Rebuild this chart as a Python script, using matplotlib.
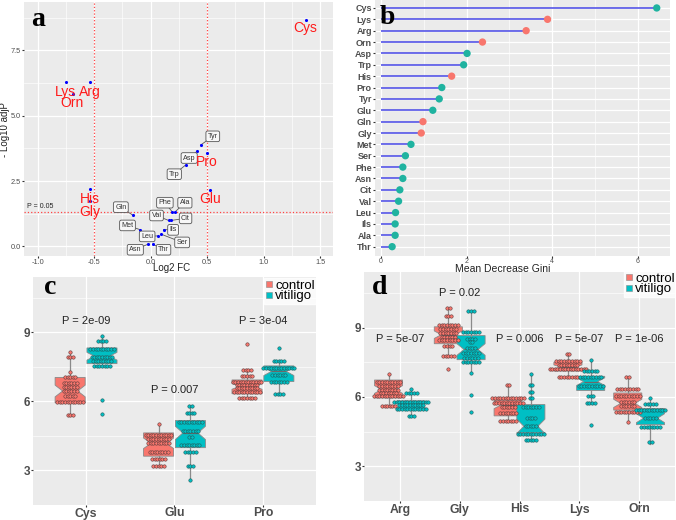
import numpy as np
import matplotlib
matplotlib.use('Agg')
import matplotlib.pyplot as plt
from matplotlib.lines import Line2D

plt.rcParams['font.family'] = ['Liberation Sans', 'DejaVu Sans']

# ---------------- data ----------------
# a: volcano
vol_names = ['Cys', 'Lys', 'Arg', 'Orn', 'His', 'Gly', 'Tyr', 'Asp', 'Pro', 'Trp', 'Glu',
             'Gln', 'Phe', 'Ala', 'Val', 'Cit', 'Met', 'Ils', 'Ser', 'Leu', 'Asn', 'Thr']
log2fc = [1.38, -0.75, -0.54, -0.69, -0.54, -0.54, 0.445, 0.41, 0.50, 0.31, 0.53,
          -0.153, 0.19, 0.22, 0.16, 0.18, -0.094, 0.115, 0.097, 0.065, -0.024, 0.02]
neglogp = [8.68, 6.28, 6.28, 5.83, 2.19, 1.72, 3.88, 3.63, 3.57, 3.11, 2.16,
           1.18, 1.33, 1.33, 0.99, 0.99, 0.64, 0.64, 0.46, 0.40, 0.08, 0.08]
signif = ['Cys', 'Lys', 'Arg', 'Orn', 'His', 'Gly', 'Pro', 'Glu']

# b: random forest importance
gini_names = ['Cys', 'Lys', 'Arg', 'Orn', 'Asp', 'Trp', 'His', 'Pro', 'Tyr', 'Glu', 'Gln',
              'Gly', 'Met', 'Ser', 'Phe', 'Asn', 'Cit', 'Val', 'Leu', 'Ils', 'Ala', 'Thr']
gini = [6.44, 3.89, 3.39, 2.37, 2.01, 1.93, 1.65, 1.42, 1.36, 1.21, 0.98,
        0.94, 0.70, 0.57, 0.51, 0.51, 0.44, 0.41, 0.34, 0.33, 0.33, 0.26]
gini_high = ['vitiligo', 'control', 'control', 'control', 'vitiligo', 'vitiligo', 'control',
             'vitiligo', 'vitiligo', 'vitiligo', 'control', 'control', 'vitiligo', 'vitiligo',
             'vitiligo', 'vitiligo', 'vitiligo', 'vitiligo', 'vitiligo', 'vitiligo', 'vitiligo', 'vitiligo']

# c: boxplots  (q1, median, q3, whisker low, whisker high)
c_cats = ['Cys', 'Glu', 'Pro']
c_pvals = ['P = 2e-09', 'P = 0.007', 'P = 3e-04']
c_ctrl_box = [(5.94, 6.45, 7.04, 5.40, 8.15), (3.62, 4.18, 4.63, 3.21, 5.01), (6.33, 6.65, 6.93, 6.15, 7.35)]
c_viti_box = [(7.64, 7.96, 8.32, 7.54, 8.84), (3.99, 4.63, 5.17, 2.60, 5.80), (6.86, 7.30, 7.54, 6.32, 7.77)]
# dot rows (value, count)
c_ctrl_dots = [
    [(8.15, 1), (7.92, 3), (7.28, 1), (7.04, 5), (6.79, 6), (6.62, 6), (6.45, 6), (6.25, 5), (5.97, 11), (5.40, 3)],
    [(5.01, 1), (4.56, 11), (4.37, 9), (4.18, 9), (3.78, 8), (3.48, 6), (3.21, 5)],
    [(8.50, 1), (7.35, 4), (7.10, 5), (6.84, 12), (6.70, 9), (6.59, 9), (6.39, 11), (6.15, 7)],
]
c_viti_dots = [
    [(8.84, 1), (8.63, 4), (8.26, 10), (7.92, 9), (7.75, 8), (7.55, 7), (6.06, 1), (5.45, 1)],
    [(5.80, 2), (5.48, 4), (5.10, 10), (4.73, 7), (4.46, 2), (4.11, 8), (3.81, 5), (3.21, 3), (2.60, 1)],
    [(8.33, 1), (7.77, 5), (7.47, 13), (7.14, 6), (6.83, 7), (6.32, 4)],
]

# d: boxplots
d_cats = ['Arg', 'Gly', 'His', 'Lys', 'Orn']
d_pvals = ['P = 5e-07', 'P = 0.02', 'P = 0.006', 'P = 5e-07', 'P = 1e-06']
d_ctrl_box = [(5.96, 6.32, 6.73, 5.59, 7.01), (8.30, 8.69, 9.03, 7.79, 9.86), (5.18, 5.65, 5.86, 4.94, 6.53),
              (7.12, 7.29, 7.50, 6.86, 7.86), (5.43, 5.72, 6.17, 4.91, 6.86)]
d_viti_box = [(5.46, 5.63, 5.83, 5.18, 6.35), (7.61, 8.05, 8.65, 7.03, 9.72), (4.45, 4.73, 5.67, 4.14, 6.97),
              (6.28, 6.66, 6.89, 5.75, 7.61), (4.80, 5.08, 5.50, 3.95, 5.97)]
d_ctrl_dots = [
    [(7.01, 1), (6.66, 10), (6.49, 8), (6.31, 8), (6.19, 7), (6.04, 12), (5.59, 6)],
    [(9.86, 2), (9.51, 3), (9.10, 8), (8.93, 7), (8.77, 7), (8.59, 6), (8.45, 8), (8.20, 4), (7.79, 5), (7.20, 1)],
    [(6.53, 2), (5.96, 13), (5.75, 12), (5.55, 6), (5.30, 7), (4.94, 7)],
    [(7.86, 2), (7.55, 10), (7.38, 8), (7.21, 15), (6.86, 8)],
    [(6.86, 2), (6.34, 9), (6.03, 10), (5.77, 6), (5.60, 6), (5.35, 10), (4.91, 1)],
]
d_viti_dots = [
    [(6.35, 1), (6.17, 5), (5.80, 14), (5.63, 10), (5.49, 12), (5.18, 3)],
    [(9.72, 3), (8.80, 7), (8.51, 4), (8.36, 2), (8.13, 4), (7.88, 7), (7.70, 6), (7.53, 7), (7.03, 1), (6.08, 1), (5.35, 1)],
    [(6.97, 1), (6.52, 2), (6.21, 2), (5.96, 2), (5.58, 7), (5.07, 4), (4.73, 5), (4.41, 11), (4.14, 5)],
    [(7.61, 1), (7.12, 6), (6.85, 9), (6.49, 10), (6.06, 3), (5.75, 4), (4.78, 1)],
    [(5.97, 1), (5.70, 5), (5.43, 12), (5.08, 5), (4.72, 8), (4.03, 2)],
]

# ---------------- style / layout ----------------
RED = '#F8766D'
TEAL = '#00BFC4'
BG = '#EBEBEB'
TXT = '#4D4D4D'
W, H = 676, 520

# label positions for panel a (layout only)
red_lab_pos = {'Cys': (1.37, 8.35), 'Lys': (-0.752, 5.91), 'Arg': (-0.534, 5.91), 'Orn': (-0.693, 5.49),
               'Pro': (0.498, 3.22), 'His': (-0.54, 1.83), 'Gly': (-0.54, 1.33), 'Glu': (0.528, 1.81)}
box_lab_pos = {'Tyr': (0.551, 4.21), 'Asp': (0.342, 3.38), 'Trp': (0.21, 2.76), 'Gln': (-0.263, 1.50),
               'Phe': (0.127, 1.67), 'Ala': (0.304, 1.67), 'Val': (0.053, 1.18), 'Cit': (0.31, 1.07),
               'Met': (-0.204, 0.80), 'Ils': (0.20, 0.63), 'Leu': (-0.03, 0.38), 'Ser': (0.28, 0.15),
               'Asn': (-0.135, -0.13), 'Thr': (0.115, -0.13)}


def px_axes(l, t, r, b):
    return fig.add_axes([l / W, 1 - b / H, (r - l) / W, (b - t) / H])


def gg(ax):
    ax.set_facecolor(BG)
    for s in ax.spines.values():
        s.set_visible(False)
    ax.set_axisbelow(True)
    ax.grid(True, which='major', color='white', lw=0.9)
    ax.grid(True, which='minor', color='white', lw=0.45)
    ax.tick_params(which='major', length=1.5, color='#333333', labelcolor=TXT, pad=0.8)
    ax.tick_params(which='minor', length=0)


fig = plt.figure(figsize=(W / 100, H / 100), dpi=100)

# ---------------- panel a ----------------
ax = px_axes(24, 2, 333, 256)
gg(ax)
ax.set_xlim(-1.12, 1.615)
ax.set_ylim(-0.37, 9.35)
ax.set_xticks([-1.0, -0.5, 0.0, 0.5, 1.0, 1.5])
ax.set_xticks([-0.75, -0.25, 0.25, 0.75, 1.25], minor=True)
ax.set_yticks([0.0, 2.5, 5.0, 7.5])
ax.set_yticks([1.25, 3.75, 6.25, 8.75], minor=True)
ax.set_xticklabels(['-1.0', '-0.5', '0.0', '0.5', '1.0', '1.5'])
ax.set_yticklabels(['0.0', '2.5', '5.0', '7.5'])
ax.tick_params(labelsize=5.3)
ax.tick_params(axis='x', pad=0.3)
ax.axvline(-0.5, color='#FF4444', ls=':', lw=0.9, zorder=1.5)
ax.axvline(0.5, color='#FF4444', ls=':', lw=0.9, zorder=1.5)
ax.axhline(-np.log10(0.05), color='#FF4444', ls=':', lw=0.9, zorder=1.5)
ax.text(-1.09, 1.38, 'P = 0.05', fontsize=5, color='#222222', va='bottom')
for n, x, y in zip(vol_names, log2fc, neglogp):
    if n in box_lab_pos:
        lx, ly = box_lab_pos[n]
        ax.plot([x, lx], [y, ly], color='#555555', lw=0.6, zorder=2)
        ax.text(lx, ly, n, fontsize=5.2, color='#333333', ha='center', va='center', zorder=4,
                bbox=dict(boxstyle='round,pad=0.25', fc='#F7F7F7', ec='#555555', lw=0.6))
    else:
        lx, ly = red_lab_pos[n]
        ax.text(lx, ly, n, fontsize=10, color='#FF1A1A', ha='center', va='center', zorder=4)
ax.scatter(log2fc, neglogp, s=5, color='#0000FF', zorder=3, linewidths=0)
fig.text(5.5 / W, 1 - 130 / H, '- Log10 adjP', rotation=90, fontsize=7, color='#222222', ha='center', va='center')
fig.text(172 / W, 1 - 268 / H, 'Log2 FC', fontsize=7, color='#222222', ha='center', va='center')

# ---------------- panel b ----------------
ax = px_axes(375, 0, 670, 256)
gg(ax)
ypos = np.arange(len(gini_names))[::-1]
ax.set_xlim(-0.14, 6.75)
ax.set_ylim(-0.82, 21.7)
ax.set_xticks([0, 2, 4, 6])
ax.set_xticks([1, 3, 5], minor=True)
ax.set_yticks(ypos)
ax.set_yticklabels(gini_names, fontweight='bold')
ax.tick_params(axis='x', labelsize=5, pad=0.2)
ax.tick_params(axis='y', labelsize=6.5)
ax.hlines(ypos, 0, gini, color='#4646E6', lw=1.1, zorder=2)
cols = [RED if g == 'control' else '#1FB3A0' for g in gini_high]
ax.scatter(gini, ypos, s=28, c=cols, zorder=3, linewidths=0)
fig.text(503 / W, 1 - 269.5 / H, 'Mean Decrease Gini', fontsize=7.5, color='#222222', ha='center', va='center')


# ---------------- panels c, d ----------------
def box_panel(ax, cats, ctrl_box, viti_box, ctrl_dots, viti_dots, pvals, p_y, off, width, dsp):
    gg(ax)
    xs = np.arange(1, len(cats) + 1)
    ax.set_xlim(0.4, len(cats) + 0.6)
    ax.set_ylim(1.62, 11.4)
    ax.set_xticks(xs)
    ax.set_xticklabels(cats, fontweight='bold')
    ax.set_yticks([3, 6, 9])
    ax.set_yticks([1.5, 4.5, 7.5, 10.5], minor=True)
    ax.set_yticklabels(['3', '6', '9'], fontweight='bold')
    ax.tick_params(axis='x', labelsize=8.8, pad=0.3)
    ax.tick_params(axis='y', labelsize=8.5)
    ax.grid(False, which='minor', axis='x')
    for boxes, dots, sign, col in [(ctrl_box, ctrl_dots, -1, RED), (viti_box, viti_dots, 1, TEAL)]:
        stats = []
        for (q1, med, q3, lo, hi), rows in zip(boxes, dots):
            n = sum(c for v, c in rows)
            half = 1.58 * (q3 - q1) / np.sqrt(n)
            stats.append(dict(q1=q1, med=med, q3=q3, whislo=lo, whishi=hi,
                              cilo=med - half, cihi=med + half, fliers=[]))
        pos = xs + sign * off
        ax.bxp(stats, positions=pos, widths=width, shownotches=True, patch_artist=True,
               showcaps=False, showfliers=False, manage_ticks=False,
               boxprops=dict(facecolor=col, edgecolor='#8A8A8A', lw=0.6),
               whiskerprops=dict(color='#8A8A8A', lw=0.9),
               medianprops=dict(color='#6A6A6A', lw=0.9), zorder=2)
        for p, rows in zip(pos, dots):
            dx, dy = [], []
            for v, c in rows:
                for i in range(c):
                    dx.append(p + (i - (c - 1) / 2) * dsp)
                    dy.append(v)
            ax.scatter(dx, dy, s=6, facecolor=col, edgecolor='#5A3A3A' if col == RED else '#1F5A5A',
                       linewidths=0.4, zorder=3)
    for x, t, y in zip(xs, pvals, p_y):
        ax.text(x, y, t, fontsize=8, color='#222222', ha='center', va='center')


ax_c = px_axes(33, 277, 316, 505)
box_panel(ax_c, c_cats, c_ctrl_box, c_viti_box, c_ctrl_dots, c_viti_dots, c_pvals,
          [9.48, 6.5, 9.48], 0.18, 0.34, 0.029)

ax_d = px_axes(364, 272, 675, 501)
box_panel(ax_d, d_cats, d_ctrl_box, d_viti_box, d_ctrl_dots, d_viti_dots, d_pvals,
          [8.49, 10.48, 8.49, 8.49, 8.49], 0.19, 0.47, 0.044)

handles = [Line2D([], [], ls='none', marker='s', ms=5, mfc=RED, mec='#8A8A8A', mew=0.4),
           Line2D([], [], ls='none', marker='s', ms=5, mfc=TEAL, mec='#8A8A8A', mew=0.4)]
for anchor in [(316 / W, 1 - 278 / H), (676 / W, 1 - 271 / H)]:
    lg = fig.legend(handles, ['control', 'vitiligo'], loc='upper right', bbox_to_anchor=anchor,
                    fontsize=9.5, frameon=True, fancybox=False, borderpad=0.1, labelspacing=-0.1,
                    handlelength=0.6, handletextpad=0.15, borderaxespad=0)
    lg.get_frame().set_facecolor('white')
    lg.get_frame().set_edgecolor('white')

# panel letters
for t, x, y in [('a', 38, 20), ('b', 387, 18), ('c', 50, 288), ('d', 380, 288)]:
    fig.text(x / W, 1 - y / H, t, fontsize=20, fontweight='bold', family='Liberation Serif',
             ha='center', va='center', color='black')

fig.savefig('out.png', dpi=100)
